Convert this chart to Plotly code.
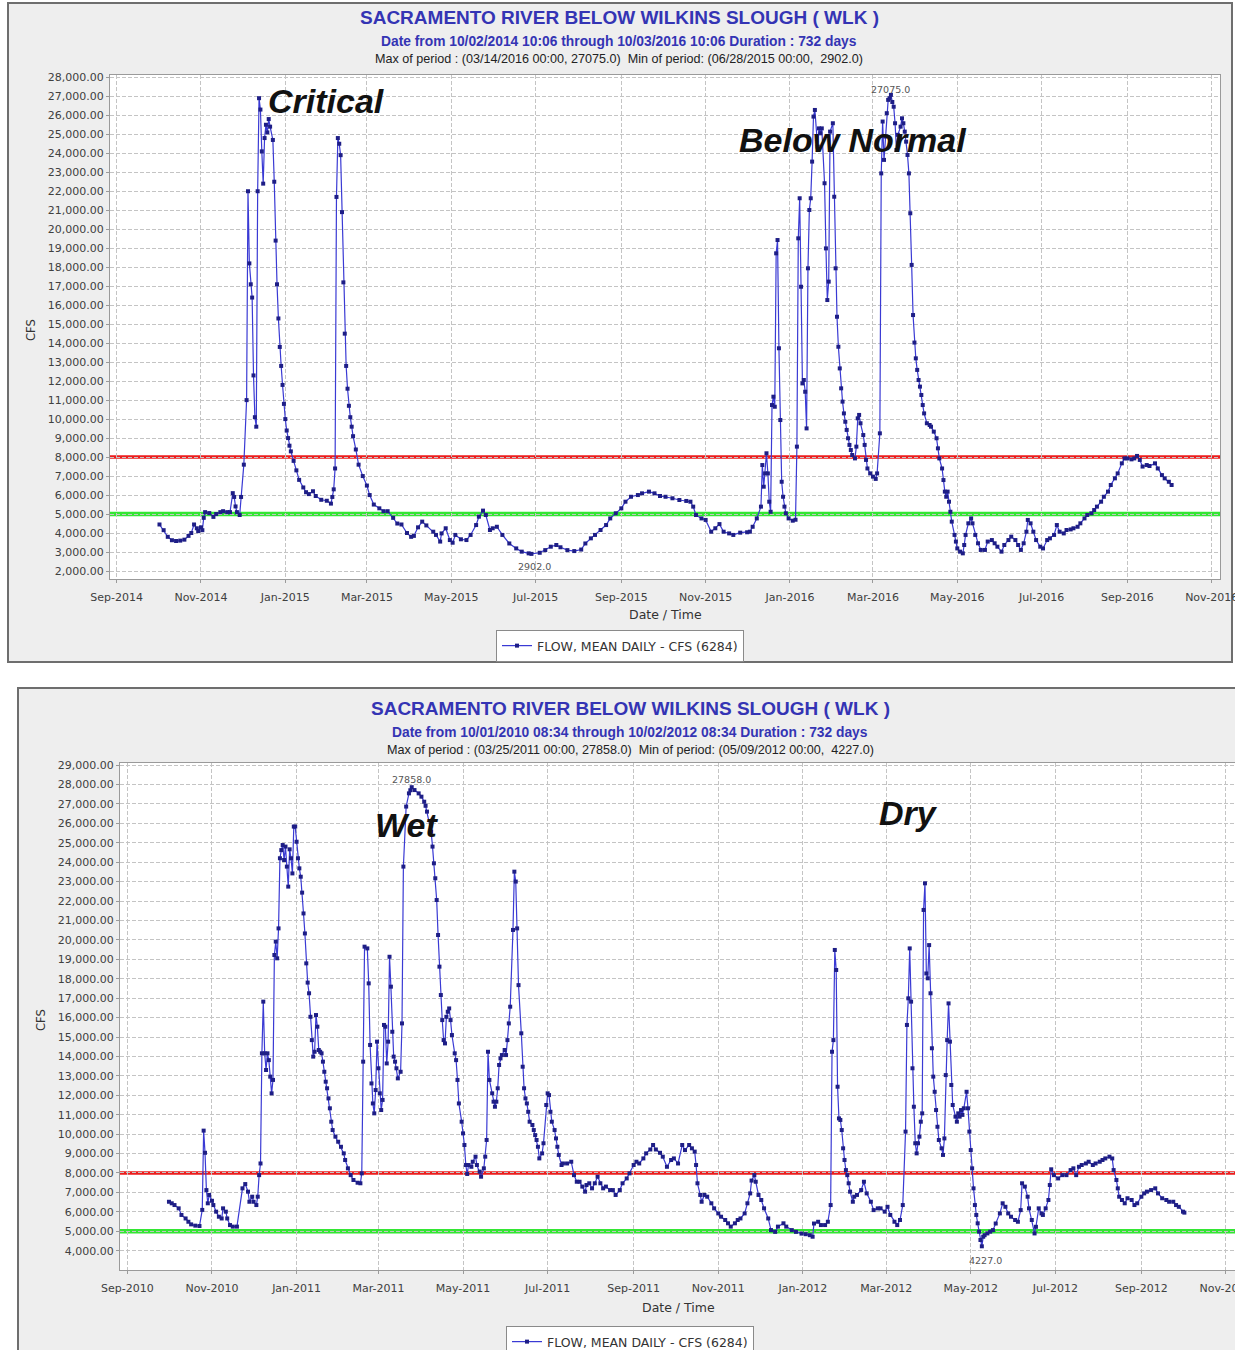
import plotly.graph_objects as go

W, H = 1235, 1350

# ---------------- data: WY2015-2016 (top panel) ----------------
top_dates = [
 "2014-10-02","2014-10-05","2014-10-08","2014-10-11","2014-10-14","2014-10-17","2014-10-20","2014-10-23","2014-10-25","2014-10-27",
 "2014-10-29","2014-10-30","2014-11-01","2014-11-02","2014-11-03","2014-11-04","2014-11-07","2014-11-10","2014-11-12","2014-11-15",
 "2014-11-17","2014-11-20","2014-11-22","2014-11-24","2014-11-25","2014-11-26","2014-11-27","2014-11-29","2014-11-30","2014-12-02",
 "2014-12-04","2014-12-05","2014-12-06","2014-12-07","2014-12-08","2014-12-09","2014-12-10","2014-12-11","2014-12-12","2014-12-13",
 "2014-12-14","2014-12-15","2014-12-16","2014-12-17","2014-12-18","2014-12-19","2014-12-20","2014-12-21","2014-12-23","2014-12-24",
 "2014-12-25","2014-12-26","2014-12-27","2014-12-28","2014-12-29","2014-12-30","2014-12-31","2015-01-01","2015-01-02","2015-01-03",
 "2015-01-04","2015-01-05","2015-01-07","2015-01-09","2015-01-11","2015-01-14","2015-01-16","2015-01-18","2015-01-21","2015-01-23",
 "2015-01-27","2015-01-31","2015-02-03","2015-02-04","2015-02-05","2015-02-06","2015-02-07","2015-02-08","2015-02-09","2015-02-10",
 "2015-02-11","2015-02-12","2015-02-13","2015-02-14","2015-02-15","2015-02-16","2015-02-17","2015-02-18","2015-02-19","2015-02-21",
 "2015-02-23","2015-02-26","2015-03-01","2015-03-03","2015-03-06","2015-03-10","2015-03-13","2015-03-16","2015-03-20","2015-03-23",
 "2015-03-26","2015-03-30","2015-04-02","2015-04-04","2015-04-07","2015-04-10","2015-04-13","2015-04-18","2015-04-20","2015-04-23",
 "2015-04-24","2015-04-27","2015-04-30","2015-05-02","2015-05-04","2015-05-08","2015-05-12","2015-05-15","2015-05-19","2015-05-21",
 "2015-05-24","2015-05-26","2015-05-29","2015-05-31","2015-06-03","2015-06-07","2015-06-12","2015-06-17","2015-06-21","2015-06-26",
 "2015-06-28","2015-07-04","2015-07-08","2015-07-12","2015-07-16","2015-07-19","2015-07-24","2015-07-29","2015-08-03","2015-08-06",
 "2015-08-10","2015-08-13","2015-08-17","2015-08-21","2015-08-24","2015-08-28","2015-09-01","2015-09-04","2015-09-08","2015-09-13",
 "2015-09-16","2015-09-21","2015-09-25","2015-09-29","2015-10-03","2015-10-08","2015-10-13","2015-10-18","2015-10-21","2015-10-23",
 "2015-10-25","2015-10-29","2015-11-01","2015-11-05","2015-11-08","2015-11-11","2015-11-14","2015-11-18","2015-11-21","2015-11-26",
 "2015-12-01","2015-12-03","2015-12-05","2015-12-08","2015-12-11","2015-12-12","2015-12-13","2015-12-14","2015-12-15","2015-12-16",
 "2015-12-17","2015-12-18","2015-12-19","2015-12-20","2015-12-21","2015-12-22","2015-12-23","2015-12-24","2015-12-25","2015-12-26",
 "2015-12-27","2015-12-28","2015-12-29","2015-12-31","2016-01-03","2016-01-05","2016-01-06","2016-01-07","2016-01-08","2016-01-09",
 "2016-01-10","2016-01-11","2016-01-12","2016-01-13","2016-01-14","2016-01-15","2016-01-16","2016-01-17","2016-01-18","2016-01-19",
 "2016-01-21","2016-01-22","2016-01-23","2016-01-24","2016-01-26","2016-01-27","2016-01-28","2016-01-29","2016-01-30","2016-02-01",
 "2016-02-02","2016-02-03","2016-02-04","2016-02-05","2016-02-06","2016-02-07","2016-02-08","2016-02-09","2016-02-10","2016-02-11",
 "2016-02-12","2016-02-13","2016-02-14","2016-02-15","2016-02-17","2016-02-18","2016-02-19","2016-02-20","2016-02-21","2016-02-23",
 "2016-02-24","2016-02-25","2016-02-26","2016-02-28","2016-03-01","2016-03-03","2016-03-04","2016-03-06","2016-03-07","2016-03-08",
 "2016-03-09","2016-03-10","2016-03-11","2016-03-12","2016-03-13","2016-03-14","2016-03-15","2016-03-16","2016-03-17","2016-03-18",
 "2016-03-19","2016-03-21","2016-03-22","2016-03-23","2016-03-24","2016-03-25","2016-03-26","2016-03-27","2016-03-28","2016-03-29",
 "2016-03-30","2016-03-31","2016-04-01","2016-04-02","2016-04-03","2016-04-04","2016-04-05","2016-04-06","2016-04-07","2016-04-09",
 "2016-04-11","2016-04-12","2016-04-14","2016-04-16","2016-04-17","2016-04-18","2016-04-20","2016-04-21","2016-04-22","2016-04-23",
 "2016-04-24","2016-04-25","2016-04-26","2016-04-27","2016-04-29","2016-04-30","2016-05-01","2016-05-03","2016-05-05","2016-05-06",
 "2016-05-07","2016-05-09","2016-05-11","2016-05-12","2016-05-14","2016-05-16","2016-05-18","2016-05-21","2016-05-23","2016-05-26",
 "2016-05-28","2016-05-30","2016-06-02","2016-06-04","2016-06-07","2016-06-09","2016-06-12","2016-06-14","2016-06-16","2016-06-18",
 "2016-06-20","2016-06-21","2016-06-23","2016-06-25","2016-06-27","2016-06-30","2016-07-02","2016-07-05","2016-07-07","2016-07-10",
 "2016-07-12","2016-07-14","2016-07-17","2016-07-19","2016-07-22","2016-07-24","2016-07-27","2016-07-29","2016-08-01","2016-08-03",
 "2016-08-06","2016-08-08","2016-08-10","2016-08-13","2016-08-15","2016-08-18","2016-08-20","2016-08-23","2016-08-25","2016-08-28",
 "2016-08-30","2016-09-01","2016-09-04","2016-09-06","2016-09-08","2016-09-10","2016-09-12","2016-09-15","2016-09-17","2016-09-21",
 "2016-09-23","2016-09-26","2016-09-28","2016-10-01","2016-10-03",
]
top_cfs = [
 4450,4150,3800,3620,3580,3600,3650,3850,4000,4450,
 4250,4100,4300,4150,4800,5100,5050,4850,5000,5100,
 5150,5100,5100,6100,5900,5400,5100,4950,5900,7600,
 11000,22000,18200,17100,16400,12300,10100,9600,22000,26900,
 26300,24100,22400,24800,25500,25100,25800,25400,24700,22500,
 19400,17100,15300,13800,12800,11800,10800,10000,9400,9000,
 8600,8300,7800,7300,6800,6400,6150,6050,6200,5950,
 5750,5700,5550,5900,6300,7400,21700,24800,24500,23900,
 20900,17200,14500,12800,11600,10700,10100,9600,9100,8400,
 7600,7000,6500,6000,5500,5300,5150,5150,4800,4500,
 4450,4000,3800,3850,4300,4600,4400,4070,3900,3550,
 3980,4250,3630,3490,3900,3670,3630,3900,4420,4860,
 5180,4950,4160,4250,4330,3900,3450,3190,3020,2930,
 2902,2960,3100,3280,3370,3250,3100,3050,3130,3450,
 3720,3900,4160,4420,4770,5040,5300,5650,5910,6000,
 6090,6180,6090,5950,5910,5830,5740,5690,5650,5390,
 4950,4770,4690,4070,4250,4470,4070,3980,3900,4020,
 4040,4070,4330,4770,5390,7580,6440,7140,8200,7140,
 5650,5120,10740,11180,10650,18730,19430,13730,9950,6700,
 5910,5390,5040,4770,4650,4700,8550,19520,21630,16970,
 11880,12060,11440,9510,17940,21010,21630,23560,25930,26280,
 24350,25310,25050,25310,22420,18990,16270,17240,25140,25580,
 21710,17940,15390,13810,12670,11620,10920,10300,9860,9430,
 8990,8640,8370,8110,7930,8550,10040,10220,9780,9160,
 8640,7850,7400,7140,6970,6850,7140,9250,22940,25670,
 23650,24880,26110,26810,26900,27075,26700,26450,25580,24170,
 24970,25400,25840,25580,25140,24610,23910,22940,20840,18120,
 15480,14030,13200,12590,12060,11710,11270,10740,10300,9780,
 9690,9600,9340,8990,8460,7930,7400,6790,6180,5910,
 6180,5650,5120,4600,3900,3550,3190,3020,2930,3370,
 3900,4510,4770,4510,3900,3460,3110,3110,3550,3630,
 3460,3280,3020,3370,3630,3810,3630,3370,3110,3460,
 4070,4690,4510,4070,3630,3280,3190,3630,3720,3900,
 4420,4070,3980,4160,4190,4250,4330,4510,4770,4950,
 5040,5210,5390,5650,5910,6180,6530,6880,7140,7670,
 7930,7930,7880,7930,8060,7850,7500,7580,7530,7670,
 7400,7050,6880,6700,6530,
]

# ---------------- data: WY2011-2012 (bottom panel) ----------------
bot_dates = [
 "2010-10-01","2010-10-03","2010-10-05","2010-10-08","2010-10-10","2010-10-13","2010-10-15","2010-10-17","2010-10-20","2010-10-23",
 "2010-10-25","2010-10-26","2010-10-27","2010-10-28","2010-10-29","2010-10-30","2010-11-01","2010-11-02","2010-11-04","2010-11-06",
 "2010-11-08","2010-11-09","2010-11-11","2010-11-12","2010-11-14","2010-11-16","2010-11-19","2010-11-23","2010-11-25","2010-11-27",
 "2010-11-28","2010-11-30","2010-12-01","2010-12-03","2010-12-04","2010-12-05","2010-12-06","2010-12-07","2010-12-08","2010-12-09",
 "2010-12-10","2010-12-11","2010-12-12","2010-12-13","2010-12-14","2010-12-15","2010-12-16","2010-12-17","2010-12-18","2010-12-19",
 "2010-12-20","2010-12-21","2010-12-22","2010-12-23","2010-12-24","2010-12-25","2010-12-26","2010-12-27","2010-12-28","2010-12-29",
 "2010-12-30","2010-12-31","2011-01-01","2011-01-02","2011-01-03","2011-01-04","2011-01-05","2011-01-06","2011-01-07","2011-01-08",
 "2011-01-09","2011-01-10","2011-01-11","2011-01-12","2011-01-13","2011-01-14","2011-01-15","2011-01-16","2011-01-17","2011-01-18",
 "2011-01-19","2011-01-20","2011-01-21","2011-01-22","2011-01-23","2011-01-24","2011-01-25","2011-01-26","2011-01-27","2011-01-29",
 "2011-01-31","2011-02-02","2011-02-04","2011-02-05","2011-02-07","2011-02-09","2011-02-11","2011-02-14","2011-02-16","2011-02-17",
 "2011-02-18","2011-02-19","2011-02-21","2011-02-22","2011-02-23","2011-02-24","2011-02-25","2011-02-26","2011-02-27","2011-02-28",
 "2011-03-01","2011-03-02","2011-03-03","2011-03-04","2011-03-05","2011-03-06","2011-03-07","2011-03-08","2011-03-09","2011-03-10",
 "2011-03-11","2011-03-12","2011-03-13","2011-03-14","2011-03-15","2011-03-17","2011-03-18","2011-03-19","2011-03-21","2011-03-23",
 "2011-03-24","2011-03-25","2011-03-27","2011-03-30","2011-04-01","2011-04-03","2011-04-04","2011-04-05","2011-04-08","2011-04-09",
 "2011-04-10","2011-04-11","2011-04-12","2011-04-13","2011-04-14","2011-04-15","2011-04-16","2011-04-17","2011-04-18","2011-04-19",
 "2011-04-20","2011-04-21","2011-04-22","2011-04-23","2011-04-25","2011-04-26","2011-04-27","2011-04-28","2011-04-30","2011-05-01",
 "2011-05-02","2011-05-03","2011-05-04","2011-05-05","2011-05-07","2011-05-08","2011-05-10","2011-05-11","2011-05-13","2011-05-14",
 "2011-05-16","2011-05-17","2011-05-18","2011-05-19","2011-05-20","2011-05-22","2011-05-23","2011-05-24","2011-05-25","2011-05-26",
 "2011-05-27","2011-05-28","2011-05-29","2011-05-31","2011-06-01","2011-06-02","2011-06-03","2011-06-04","2011-06-06","2011-06-07",
 "2011-06-08","2011-06-09","2011-06-10","2011-06-12","2011-06-13","2011-06-14","2011-06-15","2011-06-16","2011-06-17","2011-06-18",
 "2011-06-20","2011-06-21","2011-06-22","2011-06-23","2011-06-24","2011-06-25","2011-06-27","2011-06-28","2011-06-30","2011-07-01",
 "2011-07-02","2011-07-03","2011-07-04","2011-07-06","2011-07-07","2011-07-08","2011-07-09","2011-07-11","2011-07-12","2011-07-15",
 "2011-07-18","2011-07-20","2011-07-22","2011-07-24","2011-07-26","2011-07-28","2011-07-29","2011-07-31","2011-08-02","2011-08-04",
 "2011-08-06","2011-08-08","2011-08-10","2011-08-12","2011-08-15","2011-08-17","2011-08-19","2011-08-22","2011-08-24","2011-08-27",
 "2011-08-29","2011-09-01","2011-09-03","2011-09-05","2011-09-08","2011-09-10","2011-09-13","2011-09-15","2011-09-17","2011-09-20",
 "2011-09-22","2011-09-25","2011-09-28","2011-09-30","2011-10-03","2011-10-06","2011-10-08","2011-10-11","2011-10-13","2011-10-15",
 "2011-10-16","2011-10-17","2011-10-19","2011-10-20","2011-10-22","2011-10-24","2011-10-27","2011-10-29","2011-11-01","2011-11-03",
 "2011-11-06","2011-11-08","2011-11-10","2011-11-13","2011-11-15","2011-11-17","2011-11-20","2011-11-22","2011-11-24","2011-11-25",
 "2011-11-27","2011-11-28","2011-11-30","2011-12-02","2011-12-04","2011-12-07","2011-12-09","2011-12-12","2011-12-14","2011-12-18",
 "2011-12-20","2011-12-24","2011-12-27","2011-12-31","2012-01-03","2012-01-06","2012-01-08","2012-01-09","2012-01-12","2012-01-14",
 "2012-01-17","2012-01-19","2012-01-21","2012-01-22","2012-01-23","2012-01-24","2012-01-25","2012-01-26","2012-01-27","2012-01-28",
 "2012-01-29","2012-01-30","2012-01-31","2012-02-01","2012-02-02","2012-02-03","2012-02-04","2012-02-06","2012-02-07","2012-02-09",
 "2012-02-12","2012-02-14","2012-02-16","2012-02-19","2012-02-21","2012-02-24","2012-02-26","2012-02-29","2012-03-02","2012-03-04",
 "2012-03-07","2012-03-09","2012-03-11","2012-03-13","2012-03-15","2012-03-16","2012-03-17","2012-03-18","2012-03-19","2012-03-20",
 "2012-03-21","2012-03-22","2012-03-23","2012-03-24","2012-03-25","2012-03-26","2012-03-27","2012-03-28","2012-03-29","2012-03-30",
 "2012-03-31","2012-04-01","2012-04-02","2012-04-03","2012-04-04","2012-04-05","2012-04-06","2012-04-07","2012-04-08","2012-04-10",
 "2012-04-11","2012-04-12","2012-04-13","2012-04-14","2012-04-15","2012-04-16","2012-04-17","2012-04-18","2012-04-20","2012-04-21",
 "2012-04-22","2012-04-23","2012-04-24","2012-04-25","2012-04-26","2012-04-28","2012-04-29","2012-04-30","2012-05-01","2012-05-02",
 "2012-05-03","2012-05-04","2012-05-05","2012-05-06","2012-05-07","2012-05-08","2012-05-09","2012-05-10","2012-05-11","2012-05-13",
 "2012-05-15","2012-05-17","2012-05-19","2012-05-22","2012-05-24","2012-05-26","2012-05-28","2012-05-30","2012-06-02","2012-06-04",
 "2012-06-06","2012-06-07","2012-06-09","2012-06-11","2012-06-12","2012-06-14","2012-06-16","2012-06-17","2012-06-19","2012-06-21",
 "2012-06-22","2012-06-24","2012-06-26","2012-06-27","2012-06-28","2012-06-30","2012-07-03","2012-07-06","2012-07-09","2012-07-12",
 "2012-07-14","2012-07-16","2012-07-18","2012-07-20","2012-07-23","2012-07-25","2012-07-28","2012-07-30","2012-08-02","2012-08-04",
 "2012-08-06","2012-08-09","2012-08-11","2012-08-12","2012-08-14","2012-08-15","2012-08-16","2012-08-18","2012-08-20","2012-08-22",
 "2012-08-25","2012-08-27","2012-08-29","2012-09-01","2012-09-03","2012-09-05","2012-09-08","2012-09-11","2012-09-13","2012-09-16",
 "2012-09-19","2012-09-21","2012-09-24","2012-09-26","2012-09-28","2012-10-01","2012-10-02",
]
bot_cfs = [
 6520,6440,6350,6180,5840,5660,5490,5355,5290,5270,
 6100,10180,9040,7120,6440,6870,6570,6350,6010,5750,
 5660,6180,6010,5660,5320,5240,5240,7210,7430,7040,
 6520,6780,6520,6350,6780,7890,8490,14160,16820,14160,
 13300,14160,13810,12960,12100,12790,19220,19910,19050,20590,
 24200,24620,24880,24110,24800,23770,22740,24660,24200,23420,
 25830,25830,25050,24200,23680,23250,22430,21360,20330,18790,
 17800,17250,16040,14840,13990,14240,16130,15530,14330,14240,
 14160,13730,13210,12700,12360,11840,11330,10640,10210,9870,
 9610,9350,9010,8670,8240,7890,7640,7500,7470,7980,
 13730,19650,19560,17760,14590,12610,11580,11070,12270,14760,
 13390,12100,11240,11760,15620,15530,13640,14760,19130,17590,
 15270,13990,13730,13390,12870,13210,15700,23770,26860,27540,
 27700,27858,27710,27540,27370,27110,26900,26600,25570,24800,
 23940,23170,22050,20250,18620,17160,15870,14840,14670,16040,
 16300,16470,15870,15100,14160,13810,12790,11580,10640,10040,
 9440,8410,7950,8410,8320,8580,8840,8410,8070,7810,
 8240,8840,9700,14240,12790,12100,11670,11410,11670,12360,
 13560,13900,14070,14330,14070,14840,15700,16560,20510,23510,
 23000,20590,17670,15190,13470,12360,11840,11580,11150,10640,
 10470,10210,9950,9700,9350,8750,9010,9530,11500,12100,
 12010,11150,10640,10210,9780,9350,8930,8410,8490,8490,
 8580,7890,7550,7550,7300,7040,7380,7470,7210,7470,
 7810,7470,7210,7300,7120,7120,6870,7120,7470,7720,
 7980,8410,8580,8490,8750,9010,9210,9440,9210,9040,
 8840,8320,8670,8750,8490,9440,9180,9440,9270,9100,
 8410,7470,6870,6520,6870,6780,6440,6180,5920,5750,
 5580,5410,5240,5410,5580,5660,5920,6440,6950,7610,
 7890,7550,6870,6610,6180,5660,5060,4970,5240,5410,
 5240,5060,4970,4880,4850,4800,4720,5400,5490,5320,
 5320,5490,6350,14240,14840,19480,18450,12440,10810,10730,
 10210,9270,8670,8150,7890,7470,7040,6520,6780,6870,
 7120,7550,6950,6520,6090,6180,6180,6010,6260,5840,
 5490,5320,5580,6350,10130,15620,16990,19560,16820,13390,
 11410,9530,9010,9530,9870,10640,11070,21540,22910,18270,
 18020,19730,17250,14420,12960,12180,11240,10380,9700,9270,
 8930,9780,13040,14840,16730,14760,12530,11500,10900,10640,
 11070,10900,11240,10990,11330,12180,11330,10130,9180,8240,
 7210,6350,5840,5410,4980,4550,4227,4720,4800,4890,
 4980,5060,5400,5920,6440,6260,5920,5750,5580,5490,
 6090,7470,7300,6780,6180,5580,4890,5230,6180,5920,
 5840,6180,6610,7380,8190,7890,7720,7890,7890,8150,
 8240,7890,8320,8410,8490,8580,8410,8490,8580,8670,
 8750,8840,8750,8150,7640,7210,6780,6610,6440,6700,
 6610,6350,6440,6780,6950,7040,7120,7210,6950,6700,
 6610,6520,6520,6350,6260,6010,5960,
]

thresholds = [8000, 5000]
threshold_colors = ["#ec1c1c", "#33e633"]
threshold_widths = [3.5, 4.5]
series_name = "FLOW, MEAN DAILY - CFS (6284)"

top_title = "SACRAMENTO RIVER BELOW WILKINS SLOUGH ( WLK )"
top_sub = "Date from 10/02/2014 10:06 through 10/03/2016 10:06 Duration : 732 days"
top_ext = "Max of period : (03/14/2016 00:00, 27075.0)  Min of period: (06/28/2015 00:00,  2902.0)"
bot_title = "SACRAMENTO RIVER BELOW WILKINS SLOUGH ( WLK )"
bot_sub = "Date from 10/01/2010 08:34 through 10/02/2012 08:34 Duration : 732 days"
bot_ext = "Max of period : (03/25/2011 00:00, 27858.0)  Min of period: (05/09/2012 00:00,  4227.0)"


def PX(x):
    return x / W


def PY(y):
    return 1 - y / H


LINE_C = "#3a3ad4"
MARK_C = "#1e1e86"
TICKFONT = dict(family="DejaVu Sans", size=11, color="#404040")

fig = go.Figure()
fig.add_trace(go.Scatter(
    x=top_dates, y=top_cfs, mode="lines+markers", name=series_name,
    xaxis="x", yaxis="y", legend="legend",
    line=dict(color=LINE_C, width=1.2),
    marker=dict(color=MARK_C, size=4, symbol="square")))
fig.add_trace(go.Scatter(
    x=bot_dates, y=bot_cfs, mode="lines+markers", name=series_name,
    xaxis="x2", yaxis="y2", legend="legend2",
    line=dict(color=LINE_C, width=1.2),
    marker=dict(color=MARK_C, size=4, symbol="square")))

common_x = dict(type="date", dtick="M2", tickformat="%b-%Y", showgrid=True,
                gridcolor="#c4c4c4", griddash="4px,2px", gridwidth=1,
                showline=True, mirror=True, linecolor="#9a9a9a", linewidth=1,
                ticks="outside", ticklen=3, tickcolor="#9a9a9a", automargin=False,
                ticklabelstandoff=5, ticklabeloverflow="allow",
                tickfont=TICKFONT, zeroline=False, fixedrange=True)
common_y = dict(dtick=1000, tick0=0, tickformat=",.2f", showgrid=True,
                gridcolor="#c4c4c4", griddash="4px,2px", gridwidth=1,
                showline=True, mirror=True, linecolor="#9a9a9a", linewidth=1,
                ticks="outside", ticklen=3, tickcolor="#9a9a9a", automargin=False,
                tickfont=TICKFONT, zeroline=False, fixedrange=True)

LEGFONT = dict(family="DejaVu Sans", size=12.5, color="#333")
fig.update_layout(
    width=W, height=H, autosize=False,
    margin=dict(l=0, r=0, t=0, b=0, pad=0, autoexpand=False),
    paper_bgcolor="white", plot_bgcolor="rgba(0,0,0,0)",
    xaxis=dict(common_x, domain=[PX(110), PX(1220)], anchor="y",
               range=["2014-08-27 05:00", "2016-11-07 00:00"], tick0="2014-09-01"),
    yaxis=dict(common_y, domain=[PY(579), PY(75)], anchor="x", range=[1579, 28121]),
    xaxis2=dict(common_x, domain=[PX(120), 1.0], anchor="y2",
                range=["2010-08-26 17:00", "2012-11-07 12:00"], tick0="2010-09-01"),
    yaxis2=dict(common_y, domain=[PY(1270), PY(763)], anchor="x2", range=[3007, 29103]),
    legend=dict(x=PX(620), y=PY(646), xanchor="center", yanchor="middle",
                bgcolor="white", bordercolor="#8a8a8a", borderwidth=1,
                font=LEGFONT, itemwidth=30, tracegroupgap=0),
    legend2=dict(x=PX(630), y=PY(1326), xanchor="center", yanchor="top",
                 bgcolor="white", bordercolor="#8a8a8a", borderwidth=1,
                 font=LEGFONT, itemwidth=30, tracegroupgap=0),
    showlegend=True,
)

shapes = [
    dict(type="rect", xref="paper", yref="paper", x0=PX(8), x1=PX(1232), y0=PY(662), y1=PY(3),
         fillcolor="#eeeeee", line=dict(color="#6e6e6e", width=2), layer="below"),
    dict(type="rect", xref="paper", yref="paper", x0=PX(18), x1=1.05, y0=-0.05, y1=PY(688),
         fillcolor="#eeeeee", line=dict(color="#6e6e6e", width=2), layer="below"),
]
for xa, ya in (("x", "y"), ("x2", "y2")):
    shapes.append(dict(type="rect", xref=xa + " domain", yref=ya + " domain", x0=0, x1=1, y0=0, y1=1,
                       fillcolor="white", line=dict(width=0), layer="below"))
for xa, ya in (("x", "y"), ("x2", "y2")):
    for val, col, lw in zip(thresholds, threshold_colors, threshold_widths):
        shapes.append(dict(type="line", xref=xa + " domain", yref=ya, x0=0, x1=1, y0=val, y1=val,
                           line=dict(color=col, width=lw), layer="below"))
fig.update_layout(shapes=shapes)

TITLE_C = "#3434b4"
ann = []


def add_text(text, x, y, size, color="#222", family="Liberation Sans", **kw):
    ann.append(dict(text=text, x=PX(x), y=PY(y), xref="paper", yref="paper", showarrow=False,
                    xanchor="center", yanchor="middle", font=dict(family=family, size=size, color=color), **kw))


for (t, s, e, cx, y0) in ((top_title, top_sub, top_ext, 619, 0), (bot_title, bot_sub, bot_ext, 630, 691)):
    add_text("<b>" + t + "</b>", cx, 17 + y0, 19, TITLE_C)
    add_text("<b>" + s + "</b>", cx, 41 + y0, 13.8, TITLE_C)
    add_text(e, cx, 59 + y0, 12.6, "#222")

add_text("Date / Time", 665, 615, 12.5, "#333", family="DejaVu Sans")
add_text("Date / Time", 678, 1307, 12.5, "#333", family="DejaVu Sans")
add_text("CFS", 31, 330, 11.5, "#333", family="DejaVu Sans", textangle=-90)
add_text("CFS", 41, 1020, 11.5, "#333", family="DejaVu Sans", textangle=-90)

# water-year class labels
add_text("<b><i>Critical</i></b>", 326, 101, 34, "#111")
add_text("<b><i>Below Normal</i></b>", 853, 140, 34, "#111")
add_text("<b><i>Wet</i></b>", 406, 825, 34, "#111")
add_text("<b><i>Dry</i></b>", 908, 813, 34, "#111")

# extreme value labels
add_text("27075.0", 890, 89, 9.5, "#555", family="DejaVu Sans")
add_text("2902.0", 534, 567, 9.5, "#555", family="DejaVu Sans")
add_text("27858.0", 411, 780, 9.5, "#555", family="DejaVu Sans")
add_text("4227.0", 985, 1260, 9.5, "#555", family="DejaVu Sans")

fig.update_layout(annotations=ann)

fig.write_html("out.html", config={"displayModeBar": False},
               post_script="document.body.style.margin='0px';document.body.style.overflow='hidden';")
